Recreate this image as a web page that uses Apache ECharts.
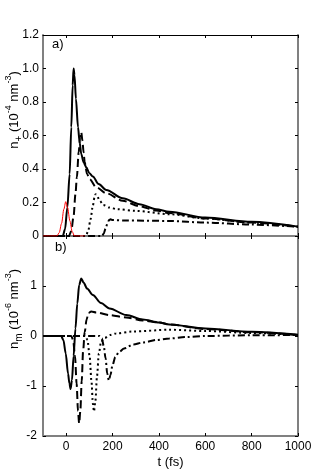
<!DOCTYPE html>
<html>
<head>
<meta charset="utf-8">
<script src="https://cdn.jsdelivr.net/npm/echarts@6/dist/echarts.min.js"></script>
<style>
  html, body { margin: 0; padding: 0; background: #fff; }
  #chart { width: 332px; height: 474px; }
</style>
</head>
<body>
<div id="chart"></div>
<script>
// time ticks (fs)
const xTicks = [0, 200, 400, 600, 800, 1000];

// panel a) n+ (10^-4 nm^-3)
const tSolidA = [-100, -15, -5, 5, 15, 22, 28, 32, 36, 42, 51, 58, 65, 75, 87, 100, 115, 140, 173, 244, 316, 388, 445, 600, 800, 1000];
const nSolidA = [0, 0, 0.04, 0.17, 0.37, 0.65, 0.9, 1.0, 0.96, 0.82, 0.65, 0.56, 0.49, 0.44, 0.41, 0.375, 0.355, 0.31, 0.275, 0.225, 0.19, 0.16, 0.145, 0.11, 0.085, 0.056];

const tDashA = [-100, 12, 22, 32, 40, 46, 54, 60, 65, 70, 75, 80, 90, 101, 130, 173, 244, 316, 388, 445, 600, 800, 1000];
const nDashA = [0, 0, 0.03, 0.12, 0.25, 0.35, 0.5, 0.59, 0.62, 0.57, 0.5, 0.44, 0.37, 0.34, 0.29, 0.255, 0.21, 0.178, 0.152, 0.137, 0.105, 0.08, 0.055];

const tDotA = [-100, 85, 95, 105, 115, 122, 127, 133, 145, 160, 185, 220, 300, 445, 600, 800, 1000];
const nDotA = [0, 0, 0.03, 0.1, 0.18, 0.23, 0.25, 0.24, 0.21, 0.185, 0.17, 0.16, 0.15, 0.13, 0.105, 0.08, 0.055];

const tDashDotA = [-100, 155, 162, 170, 178, 185, 191, 200, 250, 445, 600, 800, 1000];
const nDashDotA = [0, 0, 0.015, 0.045, 0.075, 0.095, 0.1, 0.095, 0.093, 0.09, 0.08, 0.068, 0.055];

const tPulse = [-100, -40, -30, -20, -10, -2, 6, 16, 26, 36, 80];
const nPulse = [0, 0, 0.02, 0.075, 0.16, 0.205, 0.17, 0.09, 0.025, 0, 0];

// panel b) n_m (10^-6 nm^-3)
const tSolidB = [-100, -22, -12, -2, 8, 14, 19, 25, 32, 40, 48, 56, 65, 75, 90, 115, 150, 187, 259, 330, 402, 445, 600, 800, 1000];
const nSolidB = [0, 0, -0.08, -0.35, -0.75, -0.95, -1.06, -0.88, -0.4, 0.15, 0.65, 1.02, 1.15, 1.07, 0.95, 0.82, 0.66, 0.55, 0.42, 0.33, 0.27, 0.23, 0.15, 0.085, 0.025];

const tDashB = [-100, 22, 30, 38, 45, 51, 56, 61, 67, 73, 80, 88, 96, 108, 130, 187, 259, 330, 402, 445, 600, 800, 1000];
const nDashB = [0, 0, -0.08, -0.4, -0.95, -1.5, -1.75, -1.5, -0.9, -0.3, 0.08, 0.33, 0.46, 0.49, 0.47, 0.42, 0.37, 0.31, 0.27, 0.23, 0.14, 0.075, 0.02];

const tDotB = [-100, 82, 92, 101, 109, 115, 120, 126, 133, 141, 151, 166, 190, 215, 287, 445, 600, 800, 1000];
const nDotB = [0, 0, -0.08, -0.4, -0.9, -1.35, -1.51, -1.3, -0.8, -0.35, -0.1, -0.04, 0.02, 0.05, 0.09, 0.125, 0.1, 0.06, 0.02];

const tDashDotB = [-100, 144, 154, 162, 170, 177, 184, 191, 200, 212, 228, 250, 290, 330, 390, 445, 520, 600, 800, 1000];
const nDashDotB = [0, 0, -0.05, -0.2, -0.45, -0.75, -0.89, -0.78, -0.58, -0.42, -0.32, -0.25, -0.17, -0.13, -0.08, -0.05, -0.02, 0, 0.015, 0.02];

const zip = (t, v) => t.map((x, i) => [x, v[i]]);

const FONT = 'Liberation Sans, Arial, sans-serif';
const GRAY = '#808080';

const chart = echarts.init(document.getElementById('chart'), null, { renderer: 'canvas' });

function xAx(grid, pos, opts) {
  return Object.assign({
    type: 'value', gridIndex: grid, position: pos, min: -100, max: 1000,
    axisLine: { show: true, onZero: false, lineStyle: { color: GRAY, width: 2 } },
    axisTick: { show: true, inside: true, length: 3, customValues: xTicks, lineStyle: { color: '#000' } },
    axisLabel: { show: false },
    splitLine: { show: false }
  }, opts || {});
}

function yAx(grid, pos, min, max, step, opts) {
  return Object.assign({
    type: 'value', gridIndex: grid, position: pos, min: min, max: max, interval: step,
    axisLine: { show: true, onZero: false, lineStyle: { color: GRAY, width: 2 } },
    axisTick: { show: true, inside: true, length: 3, lineStyle: { color: '#000' } },
    axisLabel: { show: false },
    splitLine: { show: false }
  }, opts || {});
}

const richName = {
  a: { fontSize: 13, fontFamily: FONT, fill: '#000', lineHeight: 20, verticalAlign: 'middle' },
  sup: { fontSize: 9, fontFamily: FONT, fill: '#000', lineHeight: 9, verticalAlign: 'top' },
  sub: { fontSize: 10, fontFamily: FONT, fill: '#000', lineHeight: 10, verticalAlign: 'bottom' }
};

// rotated axis titles
function yTitle(text, cx, cy) {
  return {
    type: 'text', x: cx, y: cy, rotation: Math.PI / 2,
    style: { text: text, rich: richName, align: 'center', verticalAlign: 'middle', fill: '#000' }
  };
}

const lineSeries = (name, t, v, grid, style) => ({
  name: name, type: 'line', xAxisIndex: grid * 2, yAxisIndex: grid * 2,
  data: zip(t, v), showSymbol: false, symbol: 'none', smooth: 0.3, smoothMonotone: 'x',
  lineStyle: style, z: 3
});

const SOLID = { color: '#000', width: 2, type: 'solid' };
const DASH = { color: '#000', width: 2, type: [8, 4] };
const DOT = { color: '#000', width: 2, type: [2, 3] };
const DASHDOT = { color: '#000', width: 2, type: [7, 3, 2, 3] };

chart.setOption({
  animation: false,
  backgroundColor: '#fff',
  grid: [
    { left: 43, top: 35, width: 255, height: 201, containLabel: false, outerBoundsMode: 'none' },
    { left: 43, top: 236, width: 255, height: 200, containLabel: false, outerBoundsMode: 'none' }
  ],
  xAxis: [
    xAx(0, 'bottom'),
    xAx(0, 'top', { axisLine: { show: true, onZero: false, lineStyle: { color: '#000', width: 1 } } }),
    xAx(1, 'bottom', {
      axisLabel: {
        show: true, customValues: xTicks, margin: 5, fontSize: 12, fontFamily: FONT, color: '#000',
        formatter: v => String(v)
      },
      name: 't (fs)', nameLocation: 'middle', nameGap: 20,
      nameTextStyle: { fontSize: 13, fontFamily: FONT, color: '#000' }
    }),
    xAx(1, 'top')
  ],
  yAxis: [
    yAx(0, 'left', 0, 1.2, 0.2, {
      axisLabel: {
        show: true, margin: 4, fontSize: 12, fontFamily: FONT, color: '#000',
        formatter: v => (v === 0 ? '0' : v.toFixed(1))
      }
    }),
    yAx(0, 'right', 0, 1.2, 0.2),
    yAx(1, 'left', -2, 2, 1, {
      axisLabel: {
        show: true, margin: 6, fontSize: 12, fontFamily: FONT, color: '#000',
        formatter: v => (v === 2 ? '' : String(v))
      }
    }),
    yAx(1, 'right', -2, 2, 1)
  ],
  graphic: [
    { type: 'text', left: 52, top: 38, style: { text: 'a)', fontSize: 13, fontFamily: FONT, fill: '#000' } },
    { type: 'text', left: 55, top: 241, style: { text: 'b)', fontSize: 13, fontFamily: FONT, fill: '#000' } },
    yTitle('{a|n}{sub|+}{a| (10}{sup|-4}{a| nm}{sup|-3}{a|)}', 14, 110),
    yTitle('{a|n}{sub|m}{a| (10}{sup|-6}{a| nm}{sup|-3}{a|)}', 14, 309)
  ],
  series: [
    lineSeries('solid a', tSolidA, nSolidA, 0, SOLID),
    lineSeries('dash a', tDashA, nDashA, 0, DASH),
    lineSeries('dot a', tDotA, nDotA, 0, DOT),
    lineSeries('dashdot a', tDashDotA, nDashDotA, 0, DASHDOT),
    Object.assign(lineSeries('pulse', tPulse, nPulse, 0, { color: '#ff0000', width: 1 }), { z: 4 }),
    lineSeries('solid b', tSolidB, nSolidB, 1, SOLID),
    lineSeries('dash b', tDashB, nDashB, 1, DASH),
    lineSeries('dot b', tDotB, nDotB, 1, DOT),
    lineSeries('dashdot b', tDashDotB, nDashDotB, 1, DASHDOT)
  ]
});
</script>
</body>
</html>
